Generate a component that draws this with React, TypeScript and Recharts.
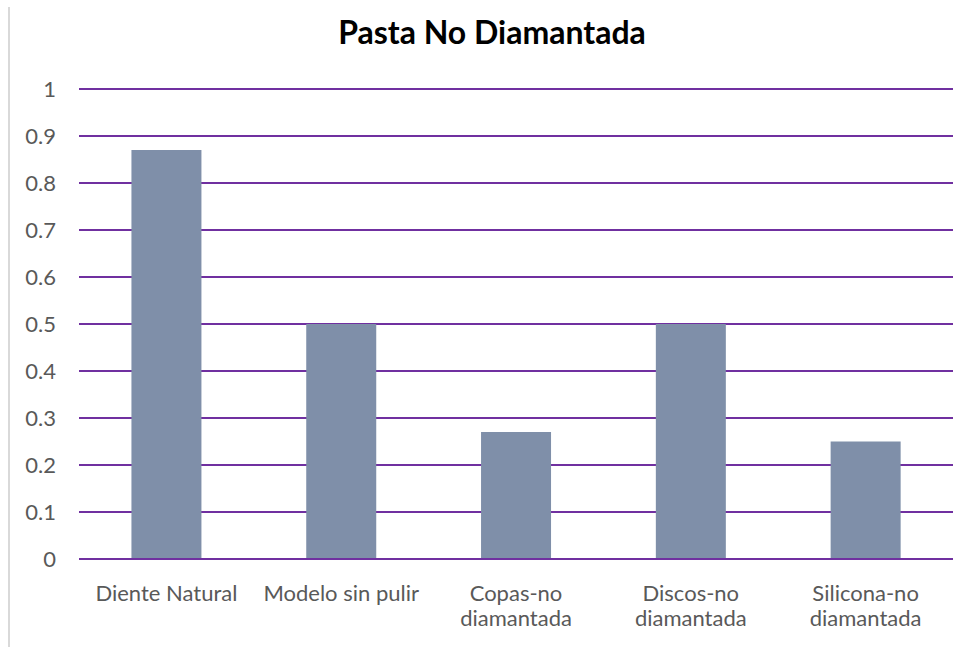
import React from 'react';
import { BarChart, Bar, XAxis, YAxis, CartesianGrid } from 'recharts';

const categories = [
  'Diente Natural',
  'Modelo sin pulir',
  'Copas-no diamantada',
  'Discos-no diamantada',
  'Silicona-no diamantada',
];
const values = [0.87, 0.5, 0.27, 0.5, 0.25];
const yTicks = [0, 0.1, 0.2, 0.3, 0.4, 0.5, 0.6, 0.7, 0.8, 0.9, 1];

const data = categories.map((name, i) => ({ name, value: values[i] }));

const FONT = 'Lato, "Open Sans", sans-serif';
const TEXT_GRAY = '#595959';

// Split "X-no diamantada" style labels onto two lines like the original
const CategoryTick = (props: any) => {
  const { x, y, payload } = props;
  const lines: string[] = String(payload.value).split(/(?<=-no) /);
  return (
    <g transform={`translate(${x},${y})`}>
      <text textAnchor="middle" fill={TEXT_GRAY} fontSize={22} fontFamily={FONT}>
        {lines.map((line, i) => (
          <tspan key={i} x={0} dy={i === 0 ? 34 : 25}>
            {line}
          </tspan>
        ))}
      </text>
    </g>
  );
};

const App: React.FC = () => {
  return (
    <div
      style={{
        position: 'absolute',
        left: 0,
        top: 0,
        width: 972,
        height: 647,
        background: '#fff',
      }}
    >
      <div
        style={{
          position: 'absolute',
          left: 8,
          top: 7,
          width: 2,
          height: 640,
          background: '#d9d9d9',
        }}
      />
      <div
        style={{
          position: 'absolute',
          left: 0,
          top: 14,
          width: 984,
          textAlign: 'center',
          fontFamily: FONT,
          fontWeight: 700,
          fontSize: 32,
          lineHeight: '36px',
          color: '#000',
        }}
      >
        Pasta No Diamantada
      </div>
      <BarChart
        width={972}
        height={647}
        data={data}
        margin={{ top: 89, right: 19, left: 0, bottom: 18 }}
        barCategoryGap="30%"
      >
        <CartesianGrid vertical={false} stroke="#7030a0" strokeWidth={2} />
        <XAxis
          dataKey="name"
          interval={0}
          height={70}
          tickLine={false}
          axisLine={{ stroke: '#7030a0', strokeWidth: 2 }}
          tick={<CategoryTick />}
        />
        <YAxis
          width={79}
          domain={[0, 1]}
          ticks={yTicks}
          interval={0}
          tickLine={false}
          axisLine={false}
          tickMargin={17}
          tick={{ fill: TEXT_GRAY, fontSize: 22, fontFamily: FONT }}
        />
        <Bar dataKey="value" fill="#7f8fa9" isAnimationActive={false} />
      </BarChart>
    </div>
  );
};

export default App;
